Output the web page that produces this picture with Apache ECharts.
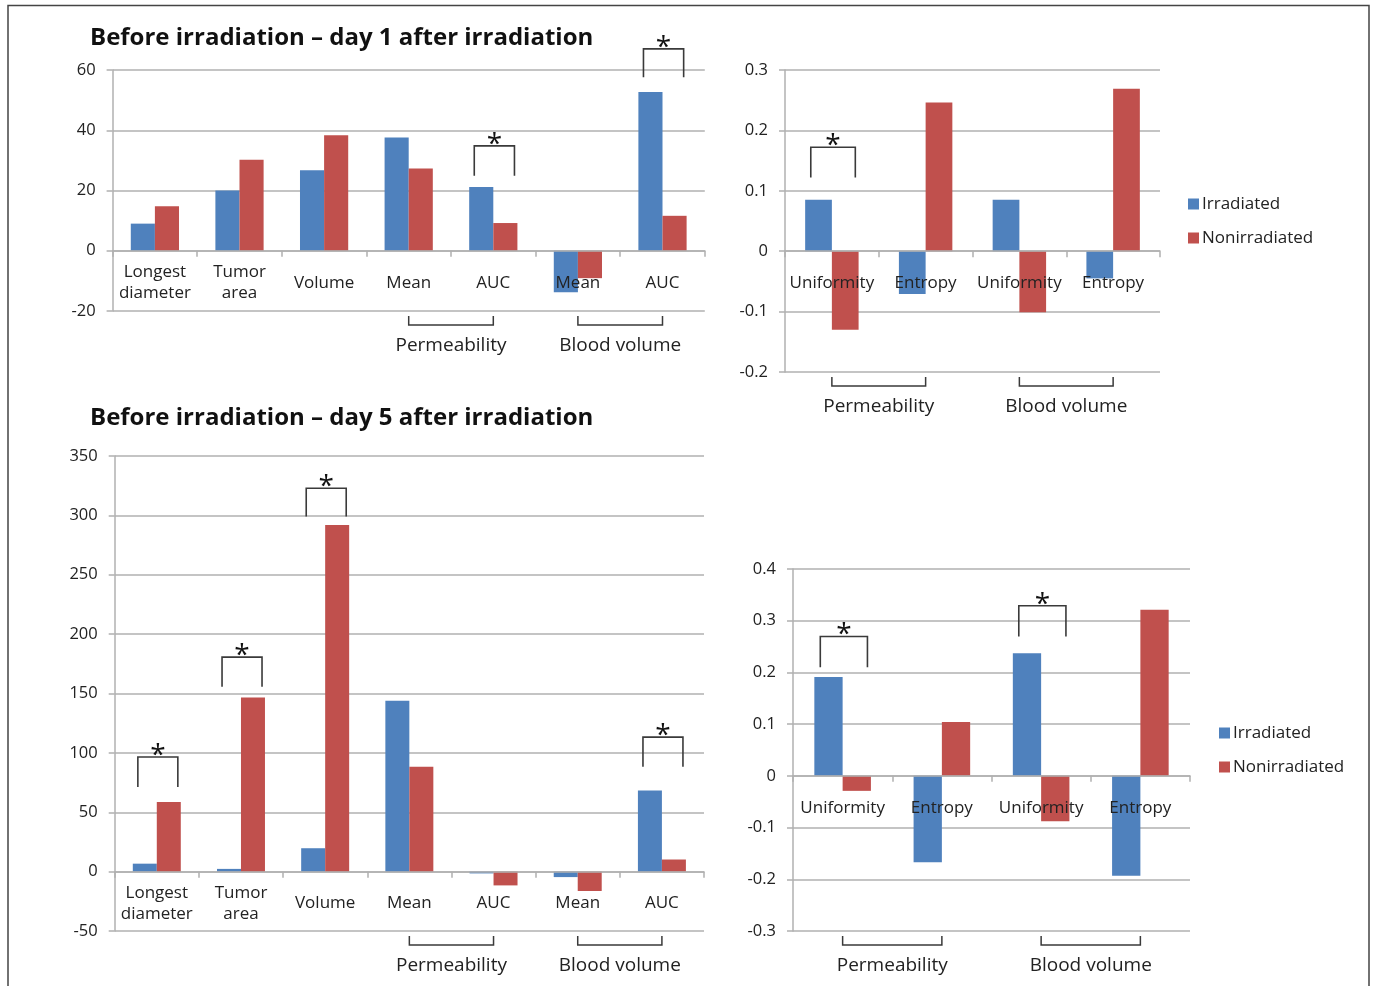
<!DOCTYPE html>
<html>
<head>
<meta charset="utf-8">
<script src="https://cdn.jsdelivr.net/npm/echarts@6/dist/echarts.min.js"></script>
<style>
html,body{margin:0;padding:0;background:#fff;}
#c{width:1375px;height:986px;}
</style>
</head>
<body>
<div id="c"></div>
<script>
// ---------- DATA ----------
const titles = ['Before irradiation \u2013 day 1 after irradiation', 'Before irradiation \u2013 day 5 after irradiation'];
const seriesNames = ['Irradiated', 'Nonirradiated'];

const catsMorph = ['Longest\ndiameter', 'Tumor\narea', 'Volume', 'Mean', 'AUC', 'Mean', 'AUC'];
const catsTex = ['Uniformity', 'Entropy', 'Uniformity', 'Entropy'];

// Panel 1: day 1, morphology & perfusion
const p1Irr = [9, 20, 26.7, 37.6, 21.2, -13.8, 52.7];
const p1Non = [14.8, 30.2, 38.3, 27.3, 9.2, -9.1, 11.6];
// Panel 2: day 1, texture
const p2Irr = [0.085, -0.071, 0.085, -0.045];
const p2Non = [-0.130, 0.246, -0.101, 0.269];
// Panel 3: day 5, morphology & perfusion
const p3Irr = [6.7, 2.3, 19.7, 143.8, -1.5, -4.6, 68.3];
const p3Non = [58.7, 146.7, 291.9, 88.3, -11.6, -16.3, 10.2];
// Panel 4: day 5, texture
const p4Irr = [0.191, -0.167, 0.237, -0.193];
const p4Non = [-0.029, 0.104, -0.088, 0.321];

// Y-axis ranges [min, max, interval]
const yRanges = [[-20, 60, 20], [-0.2, 0.3, 0.1], [-50, 350, 50], [-0.3, 0.4, 0.1]];

// Significance brackets: [category index, bracket top value, leg bottom value]
const sig1 = [[4, 34.8, 24.9], [6, 67, 57.6]];
const sig2 = [[0, 0.172, 0.122]];
const sig3 = [[0, 96.5, 71.2], [1, 180.6, 155.6], [2, 322.8, 299], [6, 113.3, 88.3]];
const sig4 = [[0, 0.2696, 0.210], [2, 0.329, 0.2696]];

// Group brackets: [first category, last category]
const groupNames = ['Permeability', 'Blood volume'];
const groupsMorph = [[3, 4], [5, 6]];
const groupsTex = [[0, 1], [2, 3]];

// ---------- STYLE ----------
const FONT = '"Open Sans"';
const BLUE = '#4F81BD', RED = '#C0504D';
const GRID_C = '#B0B0B0';
const TXT = '#222';
const BR_C = '#3a3a3a';

const chart = echarts.init(document.getElementById('c'), null, {renderer: 'canvas'});

const grids = [
  {left: 112.6, top: 70, width: 592.2, height: 241},
  {left: 785, top: 70, width: 375, height: 302},
  {left: 114.7, top: 456, width: 589.3, height: 475},
  {left: 793, top: 569, width: 397, height: 362}
];
const cats = [catsMorph, catsTex, catsMorph, catsTex];
const irr = [p1Irr, p2Irr, p3Irr, p4Irr];
const non = [p1Non, p2Non, p3Non, p4Non];
const sigs = [sig1, sig2, sig3, sig4];
const groups = [groupsMorph, groupsTex, groupsMorph, groupsTex];

// distance (px) from the zero line to the grid bottom, so labels sit under the zero axis
const zeroToBottom = yRanges.map((r, i) => grids[i].height * (0 - r[0]) / (r[1] - r[0]));

const xAxes = cats.map((c, i) => ({
  type: 'category', gridIndex: i, data: c, z: 10,
  axisLine: {show: true, onZero: true, lineStyle: {color: GRID_C, width: 1.5}},
  axisTick: {show: true, length: 6, lineStyle: {color: GRID_C, width: 1.5}},
  axisLabel: {interval: 0, color: TXT, fontFamily: FONT, fontSize: 17, lineHeight: 21,
              verticalAlign: 'middle', margin: 32 - zeroToBottom[i]},
  splitLine: {show: false}
}));
const yAxes = yRanges.map((r, i) => ({
  type: 'value', gridIndex: i, min: r[0], max: r[1], interval: r[2],
  axisLine: {show: true, lineStyle: {color: GRID_C, width: 1.5}},
  axisTick: {show: true, length: 6, lineStyle: {color: GRID_C, width: 1.5}},
  axisLabel: {color: TXT, fontFamily: FONT, fontSize: 16.5, margin: 17,
              formatter: v => String(Math.round(v * 1000) / 1000)},
  splitLine: {show: true, lineStyle: {color: GRID_C, width: 1.5}}
}));

const series = [];
for (let i = 0; i < 4; i++) {
  series.push({name: seriesNames[0], type: 'bar', xAxisIndex: i, yAxisIndex: i, data: irr[i],
               itemStyle: {color: BLUE}, barGap: '0%', barCategoryGap: '43%', silent: true});
  series.push({name: seriesNames[1], type: 'bar', xAxisIndex: i, yAxisIndex: i, data: non[i],
               itemStyle: {color: RED}, barGap: '0%', barCategoryGap: '43%', silent: true});
  // significance brackets
  series.push({
    type: 'custom', xAxisIndex: i, yAxisIndex: i, clip: false, silent: true, z: 5,
    data: sigs[i], encode: {x: 0, y: 1},
    renderItem: (params, api) => {
      const cat = api.value(0);
      const c = api.coord([cat, 0])[0];
      const w = api.size([1, 0])[0];
      const x1 = c - 0.225 * w, x2 = c + 0.25 * w;
      const yT = api.coord([cat, api.value(1)])[1];
      const yL = api.coord([cat, api.value(2)])[1];
      return {type: 'group', children: [
        {type: 'polyline', shape: {points: [[x1, yL], [x1, yT], [x2, yT], [x2, yL]]},
         style: {stroke: BR_C, lineWidth: 1.6, fill: null}},
        {type: 'text', x: (x1 + x2) / 2, y: yT - 1,
         style: {text: '*', fill: '#111', font: '28px ' + FONT, align: 'center', verticalAlign: 'middle'}}
      ]};
    }
  });
  // group brackets beneath the axis
  series.push({
    type: 'custom', xAxisIndex: i, yAxisIndex: i, clip: false, silent: true, z: 5,
    data: groups[i].map(g => [g[0], 0, g[1]]), encode: {x: 0, y: 1},
    renderItem: (params, api) => {
      const bottom = params.coordSys.y + params.coordSys.height;
      const x1 = api.coord([api.value(0), 0])[0];
      const x2 = api.coord([api.value(2), 0])[0];
      const yT = bottom + 5, yL = bottom + 14;
      return {type: 'group', children: [
        {type: 'polyline', shape: {points: [[x1, yT], [x1, yL], [x2, yL], [x2, yT]]},
         style: {stroke: BR_C, lineWidth: 1.5, fill: null}},
        {type: 'text', x: (x1 + x2) / 2, y: bottom + 35,
         style: {text: groupNames[params.dataIndex], fill: TXT, font: '19px ' + FONT,
                 align: 'center', verticalAlign: 'middle'}}
      ]};
    }
  });
}

const legendBase = {
  orient: 'vertical', icon: 'rect', itemWidth: 11, itemHeight: 11, itemGap: 14, padding: 0,
  data: seriesNames, selectedMode: false,
  textStyle: {color: TXT, fontFamily: FONT, fontSize: 17, lineHeight: 20, padding: [0, 0, 0, -2]}
};

chart.setOption({
  animation: false,
  backgroundColor: '#fff',
  title: [
    {text: titles[0], left: 90, top: 26, padding: 0,
     textStyle: {fontFamily: FONT, fontWeight: 'bold', fontSize: 24, color: '#111'}},
    {text: titles[1], left: 90, top: 406, padding: 0,
     textStyle: {fontFamily: FONT, fontWeight: 'bold', fontSize: 24, color: '#111'}}
  ],
  legend: [
    Object.assign({}, legendBase, {left: 1188, top: 194}),
    Object.assign({}, legendBase, {left: 1219, top: 723})
  ],
  grid: grids,
  xAxis: xAxes,
  yAxis: yAxes,
  series: series,
  graphic: [
    {type: 'rect', silent: true, z: 100,
     shape: {x: 8, y: 5.5, width: 1361, height: 1000},
     style: {fill: null, stroke: '#444', lineWidth: 1.5}}
  ]
});
</script>
</body>
</html>
